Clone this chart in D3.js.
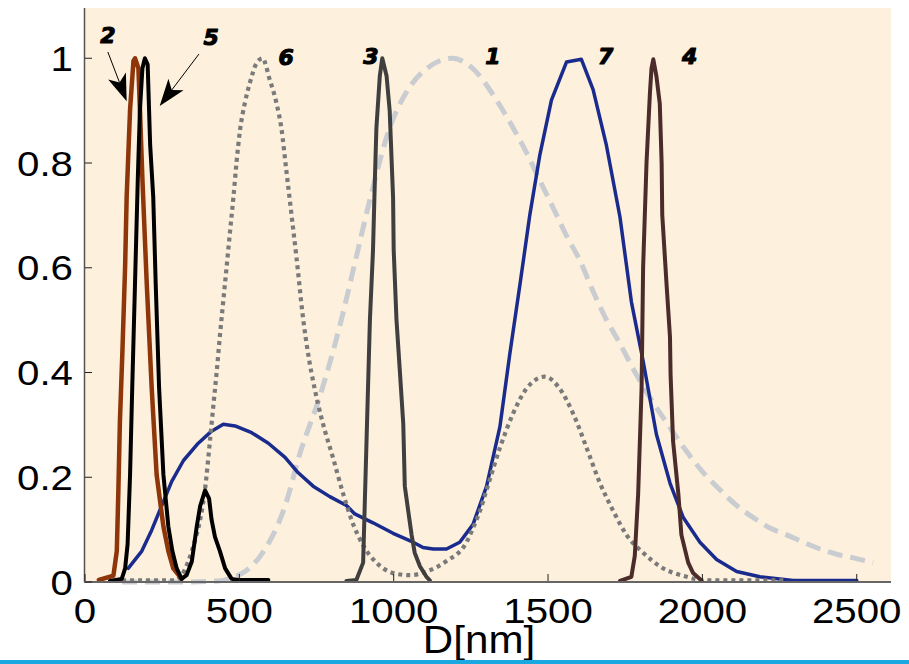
<!DOCTYPE html>
<html>
<head>
<meta charset="utf-8">
<script src="https://cdn.jsdelivr.net/npm/d3@7"></script>
<style>
  body { margin: 0; background: #fff; }
  svg { display: block; }
</style>
</head>
<body>
<div id="grafico"></div>
<script>
// eixos
var xTicks = [0, 500, 1000, 1500, 2000, 2500];
var yTicks = [0, 0.2, 0.4, 0.6, 0.8, 1];
var yTickLabels = ["0", "0.2", "0.4", "0.6", "0.8", "1"];
var xLabel = "D[nm]";

// curva 1 (tracejada)
var c1x = [120, 300, 432, 475, 518, 562, 605, 648, 696, 761, 825, 879, 933, 987, 1041, 1106, 1190, 1257, 1333, 1387, 1430, 1473, 1517, 1560, 1603, 1646, 1689, 1733, 1787, 1841, 1895, 1949, 2003, 2057, 2111, 2165, 2219, 2273, 2327, 2381, 2435, 2489, 2553];
var c1y = [0, 0, 0.002, 0.008, 0.02, 0.045, 0.085, 0.145, 0.245, 0.355, 0.488, 0.621, 0.754, 0.867, 0.935, 0.98, 1.0, 0.98, 0.92, 0.867, 0.82, 0.767, 0.714, 0.661, 0.614, 0.555, 0.501, 0.455, 0.395, 0.342, 0.295, 0.249, 0.209, 0.176, 0.146, 0.123, 0.103, 0.09, 0.076, 0.063, 0.053, 0.046, 0.037];
// curva 2
var c2x = [45, 92, 103, 108, 113, 121, 130, 135, 146, 157, 162, 173, 178, 186, 200, 216, 232, 254, 270, 286, 313];
var c2y = [0.004, 0.012, 0.059, 0.172, 0.305, 0.437, 0.603, 0.736, 0.902, 0.995, 1.0, 0.981, 0.902, 0.769, 0.57, 0.371, 0.205, 0.106, 0.059, 0.026, 0.006];
// curva 3
var c3x = [847, 879, 901, 912, 923, 933, 939, 944, 955, 963, 977, 987, 998, 1000, 1009, 1020, 1031, 1036, 1047, 1058, 1068, 1085, 1106, 1117];
var c3y = [0.002, 0.004, 0.037, 0.269, 0.501, 0.634, 0.767, 0.867, 0.966, 1.0, 0.966, 0.9, 0.734, 0.634, 0.501, 0.402, 0.302, 0.183, 0.136, 0.09, 0.056, 0.03, 0.01, 0.003];
// curva 4
var c4x = [1733, 1770, 1781, 1792, 1803, 1808, 1819, 1830, 1835, 1841, 1851, 1862, 1868, 1870, 1884, 1895, 1897, 1905, 1922, 1932, 1954, 1970, 1997];
var c4y = [0.002, 0.01, 0.05, 0.169, 0.369, 0.601, 0.8, 0.933, 0.98, 0.998, 0.966, 0.913, 0.8, 0.701, 0.568, 0.468, 0.395, 0.269, 0.169, 0.09, 0.037, 0.017, 0.003];
// curva 5
var c5x = [81, 119, 130, 138, 146, 153, 162, 171, 178, 186, 194, 203, 211, 221, 229, 240, 254, 270, 283, 297, 313, 329, 346, 362, 373, 389, 402, 410, 421, 437, 454, 475, 497, 594];
var c5y = [0.002, 0.006, 0.026, 0.072, 0.205, 0.371, 0.57, 0.769, 0.902, 0.981, 1.0, 0.988, 0.835, 0.736, 0.57, 0.371, 0.205, 0.106, 0.059, 0.026, 0.006, 0.013, 0.039, 0.106, 0.145, 0.175, 0.159, 0.119, 0.086, 0.059, 0.026, 0.006, 0.004, 0.004];
// curva 6 (pontilhada)
var c6x = [120, 290, 313, 335, 356, 373, 389, 405, 416, 427, 437, 448, 459, 470, 481, 491, 502, 518, 535, 556, 575, 598, 620, 636, 652, 669, 685, 707, 723, 744, 771, 804, 836, 869, 901, 944, 998, 1052, 1106, 1171, 1236, 1257, 1279, 1301, 1344, 1387, 1430, 1490, 1538, 1581, 1625, 1668, 1711, 1754, 1808, 1862, 1949, 2003, 2270];
var c6y = [0.003, 0.003, 0.013, 0.04, 0.079, 0.119, 0.178, 0.271, 0.338, 0.404, 0.47, 0.537, 0.603, 0.67, 0.736, 0.802, 0.862, 0.915, 0.955, 0.991, 1.0, 0.96, 0.915, 0.867, 0.787, 0.701, 0.62, 0.501, 0.435, 0.369, 0.302, 0.236, 0.169, 0.11, 0.07, 0.037, 0.017, 0.013, 0.02, 0.04, 0.076, 0.103, 0.135, 0.176, 0.256, 0.322, 0.369, 0.392, 0.369, 0.322, 0.256, 0.189, 0.136, 0.09, 0.056, 0.03, 0.01, 0.003, 0.003];
// curva 7
var c7x = [140, 184, 216, 248, 281, 319, 367, 410, 448, 486, 540, 594, 648, 690, 739, 793, 847, 874, 933, 998, 1063, 1095, 1128, 1171, 1214, 1257, 1301, 1344, 1376, 1409, 1441, 1473, 1511, 1560, 1608, 1646, 1689, 1733, 1770, 1808, 1851, 1895, 1938, 1992, 2046, 2111, 2186, 2294, 2500];
var c7y = [0.026, 0.059, 0.099, 0.145, 0.192, 0.232, 0.265, 0.288, 0.301, 0.298, 0.285, 0.265, 0.238, 0.209, 0.183, 0.163, 0.146, 0.13, 0.113, 0.093, 0.076, 0.066, 0.063, 0.063, 0.076, 0.11, 0.183, 0.296, 0.435, 0.568, 0.701, 0.814, 0.92, 0.993, 0.998, 0.94, 0.834, 0.697, 0.535, 0.422, 0.282, 0.189, 0.123, 0.076, 0.043, 0.02, 0.01, 0.003, 0.003];

// rótulos das curvas e setas
var labelText = ["2", "5", "6", "3", "1", "7", "4"];
var labelX = [74, 409, 652, 926, 1321, 1687, 1959];
var labelY = [1.029, 1.025, 0.987, 0.989, 0.989, 0.989, 0.989];
var arrowFrom = [[74, 1.012], [369, 1.008]];
var arrowTo = [[135, 0.918], [242, 0.909]];

var W = 909, H = 664;
var x = d3.scaleLinear().domain([0, 2611]).range([85, 891]);
var y = d3.scaleLinear().domain([0, 1.096]).range([582, 8]);

var svg = d3.select("#grafico").append("svg").attr("width", W).attr("height", H);

// fundo da área do gráfico
svg.append("rect").attr("x", 84).attr("y", 8).attr("width", 891 - 84).attr("height", 582 - 8).attr("fill", "#fdf0dc");

// curvas: ordem de desenho
var series = [
  {xs: c1x, ys: c1y, cor: "#c9ccd0", w: 5, dash: "15,8", curva: d3.curveMonotoneX},
  {xs: c7x, ys: c7y, cor: "#1a2b8e", w: 3.5, dash: null, curva: d3.curveLinear},
  {xs: c6x, ys: c6y, cor: "#7a7a7a", w: 4.2, dash: "4,4", curva: d3.curveMonotoneX},
  {xs: c2x, ys: c2y, cor: "#8e3509", w: 4.5, dash: null, curva: d3.curveLinear},
  {xs: c5x, ys: c5y, cor: "#000000", w: 4, dash: null, curva: d3.curveLinear},
  {xs: c3x, ys: c3y, cor: "#3f3f3f", w: 4, dash: null, curva: d3.curveLinear},
  {xs: c4x, ys: c4y, cor: "#4b2c2b", w: 4, dash: null, curva: d3.curveLinear}
];

series.forEach(function(s) {
  var linha = d3.line().x(function(d) { return x(d[0]); }).y(function(d) { return y(d[1]); }).curve(s.curva);
  svg.append("path")
    .attr("d", linha(d3.zip(s.xs, s.ys)))
    .attr("fill", "none")
    .attr("stroke", s.cor)
    .attr("stroke-width", s.w)
    .attr("stroke-linejoin", "round")
    .attr("stroke-linecap", s.dash ? "butt" : "round")
    .attr("stroke-dasharray", s.dash);
});

// eixos
svg.append("line").attr("x1", 84.5).attr("x2", 84.5).attr("y1", 8).attr("y2", 582).attr("stroke", "#555").attr("stroke-width", 1.5);
svg.append("line").attr("x1", 84).attr("x2", 891).attr("y1", 582).attr("y2", 582).attr("stroke", "#666").attr("stroke-width", 2);

svg.selectAll(".ytick").data(yTicks).enter().append("line")
  .attr("x1", 85).attr("x2", 92)
  .attr("y1", function(d) { return y(d); }).attr("y2", function(d) { return y(d); })
  .attr("stroke", "#222").attr("stroke-width", 1);
svg.selectAll(".xtick").data(xTicks).enter().append("line")
  .attr("x1", function(d) { return x(d); }).attr("x2", function(d) { return x(d); })
  .attr("y1", 581).attr("y2", 574)
  .attr("stroke", "#222").attr("stroke-width", 1);

// textos dos ticks (fonte esticada na horizontal como no original)
svg.selectAll(".ylab").data(yTicks).enter().append("text")
  .attr("transform", function(d) { return "translate(73," + (y(d) + 12.5) + ") scale(1.15,1)"; })
  .attr("text-anchor", "end")
  .attr("font-family", "Liberation Sans, Arial, sans-serif")
  .attr("font-size", 35)
  .attr("fill", "#000")
  .text(function(d, i) { return yTickLabels[i]; });

svg.selectAll(".xlab").data(xTicks).enter().append("text")
  .attr("transform", function(d) { return "translate(" + x(d) + ",623) scale(1.15,1)"; })
  .attr("text-anchor", "middle")
  .attr("font-family", "Liberation Sans, Arial, sans-serif")
  .attr("font-size", 35)
  .attr("fill", "#000")
  .text(function(d) { return d; });

svg.append("text")
  .attr("transform", "translate(479,653) scale(1.08,1)")
  .attr("text-anchor", "middle")
  .attr("font-family", "Liberation Sans, Arial, sans-serif")
  .attr("font-size", 39)
  .attr("fill", "#000")
  .text(xLabel);

// números das curvas (traço extra para ficar mais grosso)
svg.selectAll(".num").data(labelText).enter().append("text")
  .attr("x", function(d, i) { return x(labelX[i]); })
  .attr("y", function(d, i) { return y(labelY[i]); })
  .attr("text-anchor", "middle")
  .attr("font-family", "DejaVu Sans, sans-serif")
  .attr("font-weight", "bold")
  .attr("font-style", "italic")
  .attr("font-size", 22)
  .attr("fill", "#000")
  .attr("stroke", "#000")
  .attr("stroke-width", 1.1)
  .attr("stroke-linejoin", "round")
  .text(function(d) { return d; });

// setas
arrowFrom.forEach(function(a, i) {
  var x0 = x(a[0]), y0 = y(a[1]);
  var x1 = x(arrowTo[i][0]), y1 = y(arrowTo[i][1]);
  var dx = x1 - x0, dy = y1 - y0, len = Math.sqrt(dx * dx + dy * dy);
  var ux = dx / len, uy = dy / len;
  var px = -uy, py = ux;
  var bx = x1 - ux * 27, by = y1 - uy * 27;
  var nx = x1 - ux * 20, ny = y1 - uy * 20;
  svg.append("line").attr("x1", x0).attr("y1", y0).attr("x2", nx).attr("y2", ny)
    .attr("stroke", "#000").attr("stroke-width", 1);
  svg.append("path")
    .attr("d", "M" + x1 + "," + y1 + "L" + (bx + px * 9.5) + "," + (by + py * 9.5) +
      "L" + nx + "," + ny + "L" + (bx - px * 9.5) + "," + (by - py * 9.5) + "Z")
    .attr("fill", "#000");
});

// faixa azul inferior
svg.append("rect").attr("x", 0).attr("y", 660).attr("width", W).attr("height", 4).attr("fill", "#1aa8e0");
</script>
</body>
</html>
